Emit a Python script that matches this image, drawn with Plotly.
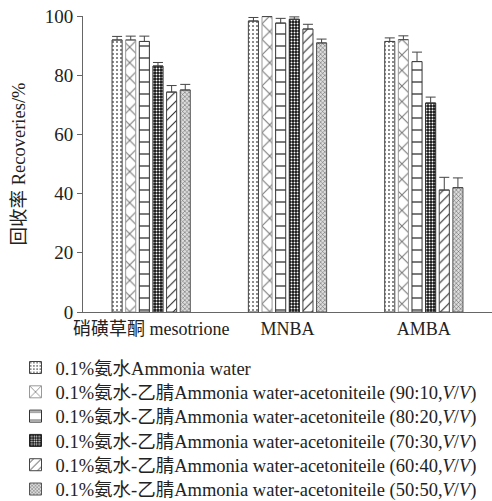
import plotly.graph_objects as go

categories = ["硝磺草酮 mesotrione", "MNBA", "AMBA"]
series_names = [
    "0.1%氨水Ammonia water",
    "0.1%氨水-乙腈Ammonia water-acetoniteile (90:10,<i>V</i>/<i>V</i>)",
    "0.1%氨水-乙腈Ammonia water-acetoniteile (80:20,<i>V</i>/<i>V</i>)",
    "0.1%氨水-乙腈Ammonia water-acetoniteile (70:30,<i>V</i>/<i>V</i>)",
    "0.1%氨水-乙腈Ammonia water-acetoniteile (60:40,<i>V</i>/<i>V</i>)",
    "0.1%氨水-乙腈Ammonia water-acetoniteile (50:50,<i>V</i>/<i>V</i>)",
]
values = [
    [91.9, 98.3, 91.4],
    [91.9, 99.8, 92.0],
    [91.4, 97.6, 84.6],
    [83.1, 98.9, 70.6],
    [74.3, 95.6, 41.2],
    [75.0, 90.9, 42.0],
]
errors = [
    [1.2, 1.2, 1.2],
    [1.3, 0.5, 1.3],
    [1.8, 1.6, 3.2],
    [1.2, 0.8, 2.0],
    [2.2, 1.6, 4.3],
    [1.9, 1.3, 3.3],
]

styles = [
    dict(shape=".", fg="#666", bg="white", size=4, solidity=0.2, line="#444"),
    dict(shape="x", fg="#777", bg="white", size=11, solidity=0.18, line="#999"),
    dict(shape="-", fg="#222", bg="white", size=12, solidity=0.1, line="#333"),
    dict(shape=".", fg="white", bg="#111", size=3, solidity=0.35, line="#222"),
    dict(shape="/", fg="#222", bg="white", size=7, solidity=0.15, line="#444"),
    dict(shape="x", fg="#555", bg="#ddd", size=3, solidity=0.3, line="#555"),
]

font_family = "Liberation Serif, Noto Sans CJK SC, serif"

# plot area: top 16px, bottom 312px (height 296)
plot_top, plot_bottom = 16, 312
legend_row0, legend_step = 368, 24.3

fig = go.Figure()
legend_layouts = {}
for i, (name, vals, errs, st) in enumerate(zip(series_names, values, errors, styles)):
    lg = "legend" if i == 0 else f"legend{i + 1}"
    fig.add_trace(go.Bar(
        x=categories, y=vals, name=name, legend=lg,
        marker=dict(
            color=st["bg"],
            line=dict(color=st["line"], width=1),
            pattern=dict(shape=st["shape"], fgcolor=st["fg"], bgcolor=st["bg"],
                         size=st["size"], solidity=st["solidity"], fillmode="replace"),
        ),
        error_y=dict(type="data", array=errs, arrayminus=[0] * len(errs),
                     symmetric=False, color="#444", thickness=1, width=5),
    ))
    row_px = legend_row0 + legend_step * i
    legend_layouts[lg] = dict(
        x=-0.165, y=(plot_bottom - row_px) / (plot_bottom - plot_top),
        xanchor="left", yanchor="middle",
        font=dict(size=18.5, color="#222"),
        itemwidth=30, bgcolor="rgba(0,0,0,0)",
    )

fig.update_layout(
    width=492, height=501,
    margin=dict(l=83, r=0, t=plot_top, b=501 - plot_bottom, autoexpand=False),
    paper_bgcolor="white", plot_bgcolor="white",
    barmode="group", bargap=0.4, bargroupgap=0.26,
    font=dict(family=font_family, size=18, color="#222"),
    showlegend=True,
    xaxis=dict(showline=True, linecolor="#666", linewidth=1, ticks="",
               tickfont=dict(size=18), showgrid=False),
    yaxis=dict(range=[0, 100], dtick=20, showline=True, linecolor="#666",
               linewidth=1, ticks="outside", ticklen=5, tickcolor="#666",
               showgrid=False, zeroline=False, tickfont=dict(size=19),
               title=dict(text="回收率 Recoveries/%", font=dict(size=18.5), standoff=14)),
    **legend_layouts,
)

fig.write_html("out.html")
